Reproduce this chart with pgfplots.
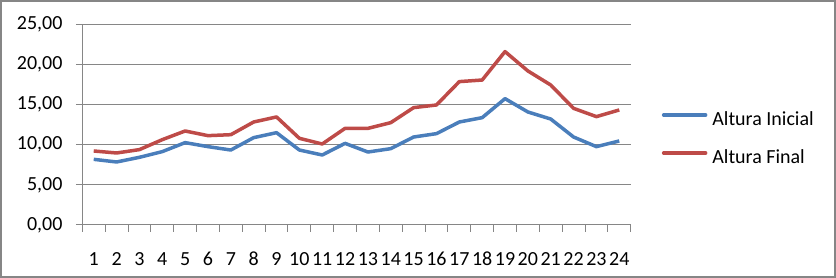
\documentclass[border=0pt]{standalone}
\usepackage{pgfplots}
\pgfplotsset{compat=1.18}
\usepackage{fontspec}
\setmainfont{Carlito}
\definecolor{sblue}{HTML}{4A7EBB}
\definecolor{sred}{HTML}{BE4B48}
\definecolor{gridgray}{HTML}{868686}
\begin{document}
\begin{tikzpicture}[x=1pt,y=1pt]
\draw[gridgray, line width=2pt] (1,1) rectangle (835,277);
\begin{axis}[
  at={(82.3pt,53pt)}, anchor=south west,
  scale only axis, width=548.4pt, height=200.7pt,
  xmin=0.5, xmax=24.5, ymin=0, ymax=25,
  axis x line*=bottom, axis y line*=left,
  axis line style={gridgray, line width=1pt},
  /pgf/number format/assume math mode=true,
  xtick={1,...,24},
  minor xtick={0.5,1.5,...,24.5},
  ytick={0,5,10,15,20,25},
  yticklabels={{0,00},{5,00},{10,00},{15,00},{20,00},{25,00}},
  tick align=outside,
  major tick length=6.3pt,
  minor tick length=7pt,
  major x tick style={draw=none},
  minor x tick style={gridgray, line width=1pt},
  major y tick style={gridgray, line width=1pt},
  ymajorgrids,
  major grid style={gridgray, line width=1pt},
  ticklabel style={font=\fontsize{20}{24}\selectfont, inner sep=0pt},
  yticklabel style={anchor=east, xshift=-13.3pt},
  xticklabel style={anchor=center, yshift=-27.7pt},
  legend style={draw=none, fill=none, at={(1.0565,0.428)}, anchor=west,
    font=\fontsize{20}{24}\selectfont, inner sep=0pt, row sep=20pt,
    nodes={inner sep=0pt, text height=14pt, text depth=4pt}},
  legend cell align=left,
  legend image code/.code={\draw[#1, line width=3.5pt, line cap=round] (0pt,5pt) -- (42pt,5pt);\path (47pt,5pt);},
  clip=false,
]
\addplot[sblue, line width=3.5pt, line join=round] coordinates {
(1,8.18) (2,7.85) (3,8.43) (4,9.14) (5,10.26) (6,9.76) (7,9.34) (8,10.88)
(9,11.50) (10,9.34) (11,8.72) (12,10.17) (13,9.09) (14,9.51) (15,10.96) (16,11.38)
(17,12.83) (18,13.37) (19,15.74) (20,14.08) (21,13.20) (22,10.96) (23,9.76) (24,10.47)};
\addlegendentry{Altura Inicial}
\addplot[sred, line width=3.5pt, line join=round] coordinates {
(1,9.22) (2,8.97) (3,9.39) (4,10.63) (5,11.71) (6,11.13) (7,11.25) (8,12.83)
(9,13.46) (10,10.80) (11,10.09) (12,12.04) (13,12.04) (14,12.75) (15,14.62) (16,14.95)
(17,17.86) (18,18.06) (19,21.60) (20,19.19) (21,17.44) (22,14.53) (23,13.50) (24,14.33)};
\addlegendentry{Altura Final}
\end{axis}
\end{tikzpicture}
\end{document}
